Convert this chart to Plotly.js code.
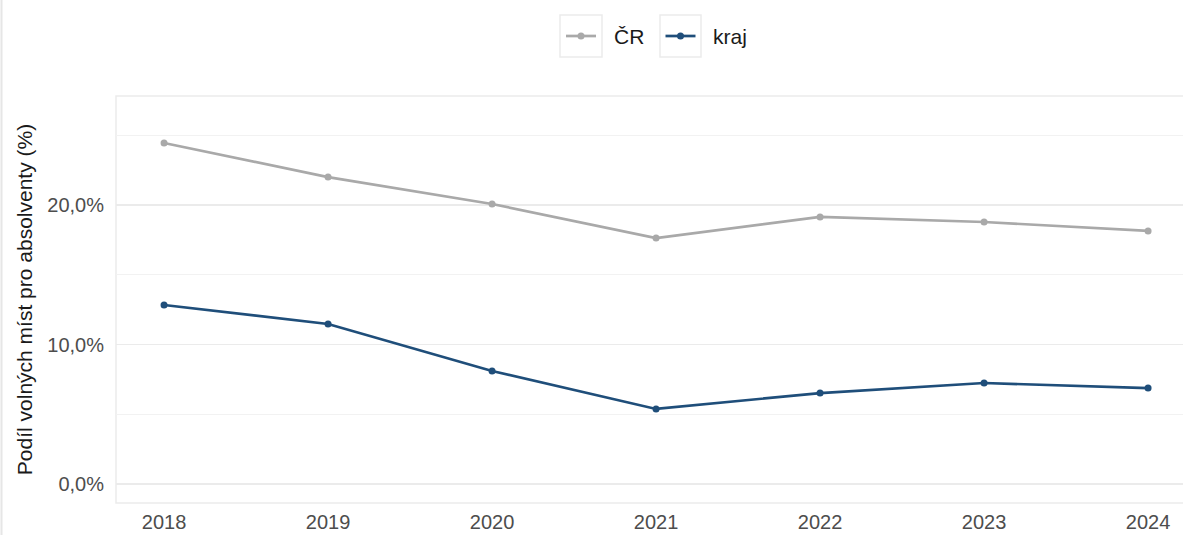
<!DOCTYPE html>
<html>
<head>
<meta charset="utf-8">
<script src="https://cdn.plot.ly/plotly-3.0.1.min.js"></script>
<style>html,body{margin:0;padding:0;background:#fff;}#chart{width:1183px;height:535px;}</style>
</head>
<body>
<div id="chart"></div>
<script>
const years = [2018, 2019, 2020, 2021, 2022, 2023, 2024];
const crValues = [0.2444, 0.2200, 0.2007, 0.1763, 0.1914, 0.1878, 0.1814];
const krajValues = [0.1283, 0.1147, 0.0810, 0.0538, 0.0652, 0.0724, 0.0688];
const seriesNames = ["ČR", "kraj"];
const yTickVals = [0, 0.1, 0.2];
const yTitle = "Podíl volných míst pro absolventy (%)";

const M = {l: 116, r: 0, t: 96, b: 32};
const W = 1183, H = 535;
const PW = W - M.l - M.r, PH = H - M.t - M.b;
function px(x) { return (x - M.l) / PW; }
function py(y) { return 1 - (y - M.t) / PH; }

const traces = [
  {x: years, y: crValues, name: seriesNames[0], type: "scatter", mode: "lines+markers",
   line: {color: "#a9a9a9", width: 2.7}, marker: {color: "#a9a9a9", size: 7}},
  {x: years, y: krajValues, name: seriesNames[1], type: "scatter", mode: "lines+markers",
   line: {color: "#1f4e7a", width: 2.7}, marker: {color: "#1f4e7a", size: 7}}
];

const layout = {
  width: W, height: H,
  margin: M,
  paper_bgcolor: "#fff", plot_bgcolor: "#fff",
  separators: ",.",
  font: {family: "Liberation Sans, Arial, sans-serif", size: 20, color: "#4d4d4d"},
  showlegend: true,
  legend: {orientation: "h", x: 0.5, xanchor: "center", y: py(36), yanchor: "middle",
           font: {size: 21, color: "#1a1a1a"}, itemwidth: 30, bgcolor: "rgba(0,0,0,0)"},
  xaxis: {range: [2017.707, 2024.213], tickvals: years, showgrid: false, zeroline: false,
          showline: false, ticks: "", automargin: false, ticklabelstandoff: 5,
          tickfont: {size: 20, color: "#4d4d4d"}, fixedrange: true},
  yaxis: {range: [-0.0136, 0.2781], tickvals: yTickVals, tickformat: ".1%", automargin: false,
          showgrid: true, gridcolor: "#ebebeb", gridwidth: 1.2, zeroline: false, showline: false,
          minor: {dtick: 0.1, tick0: 0.05, showgrid: true, gridcolor: "#f2f2f2", gridwidth: 1},
          ticks: "", ticklabelstandoff: 11, tickfont: {size: 20, color: "#4d4d4d"},
          title: {text: yTitle, font: {size: 21, color: "#1a1a1a"}, standoff: 8}},
  shapes: [
    {type: "rect", xref: "paper", yref: "paper", x0: 0, x1: 1.05, y0: 0, y1: 1,
     line: {color: "#ebebeb", width: 1.5}, layer: "below"},
    {type: "line", xref: "paper", yref: "paper", x0: px(1.5), x1: px(1.5), y0: -0.2, y1: 1.4,
     line: {color: "#e6e6e6", width: 2}},
    {type: "rect", xref: "paper", yref: "paper", x0: px(560), x1: px(602), y0: py(57), y1: py(15),
     line: {color: "#ebebeb", width: 1.5}},
    {type: "rect", xref: "paper", yref: "paper", x0: px(660), x1: px(701), y0: py(57), y1: py(15),
     line: {color: "#ebebeb", width: 1.5}}
  ]
};

Plotly.newPlot("chart", traces, layout, {displayModeBar: false, staticPlot: true}).then(function(gd){
  const chartRect = gd.getBoundingClientRect();
  const sb = gd.querySelector(".legend .scrollbox");
  if (sb) sb.removeAttribute("clip-path");
  const legendEl = gd.querySelector(".legend");
  if (legendEl) legendEl.removeAttribute("clip-path");
  const targets = [{cx: 581, cy: 36, tx: 614}, {cx: 680.5, cy: 36, tx: 713}];
  const items = gd.querySelectorAll(".legend .traces");
  items.forEach(function(g, i){
    const t = targets[i]; if (!t) return;
    const sym = g.querySelector(".legendsymbols");
    const r = sym.getBoundingClientRect();
    const dx = t.cx - (r.left + r.width/2 - chartRect.left);
    const dy = t.cy - (r.top + r.height/2 - chartRect.top);
    const tr = g.getAttribute("transform") || "";
    const m = tr.match(/translate\(\s*([-\d.e]+)[ ,]+([-\d.e]+)\s*\)/);
    const a = m ? parseFloat(m[1]) : 0, b = m ? parseFloat(m[2]) : 0;
    g.setAttribute("transform", "translate(" + (a + dx) + "," + (b + dy) + ")");
    const txt = g.querySelector("text.legendtext");
    if (txt) {
      const symCenterLocal = 20;
      txt.setAttribute("x", symCenterLocal + (t.tx - t.cx));
    }
  });
});
</script>
</body>
</html>
